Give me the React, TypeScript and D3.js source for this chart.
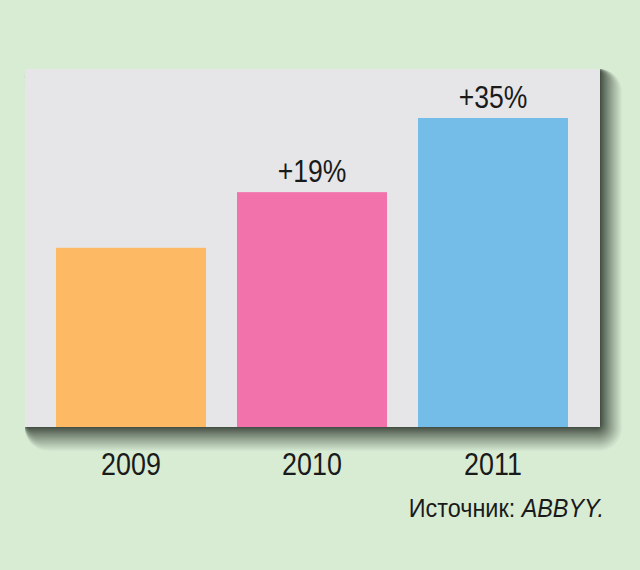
import React from "react";
import * as d3 from "d3";

const years = ["2009", "2010", "2011"];
const values = [58, 76, 100];
const growthLabels = ["", "+19%", "+35%"];
const barColors = ["#fdb963", "#f272ab", "#74bde9"];
const sourceLabel = "Источник: ";
const sourceName = "ABBYY.";

const W = 640;
const H = 570;
const BG = "#d8ecd4";
const panel = { x0: 25, x1: 600, y0: 69, y1: 427 };
const FONT = "'Liberation Sans', Arial, sans-serif";

function NarrowText(props: {
  x: number;
  y: number;
  size: number;
  sx: number;
  anchor: "start" | "middle" | "end";
  children: React.ReactNode;
}) {
  return (
    <g transform={`translate(${props.x},${props.y}) scale(${props.sx},1)`}>
      <text
        x={0}
        y={0}
        textAnchor={props.anchor}
        fontFamily={FONT}
        fontSize={props.size}
        fill="#1a1a1a"
      >
        {props.children}
      </text>
    </g>
  );
}

export default function App() {
  const x = d3
    .scaleBand<string>()
    .domain(years)
    .range([56, 568])
    .paddingInner(31 / 181)
    .paddingOuter(0);
  const y = d3.scaleLinear().domain([0, 100]).range([panel.y1, 118]);

  const steps = d3.range(24, -1, -1).map((k) => k / 24);
  const shade = d3.interpolateRgb("#3a463a", BG);

  return (
    <svg
      width={W}
      height={H}
      style={{ position: "absolute", left: 0, top: 0, display: "block" }}
    >
      <rect width={W} height={H} fill={BG} />
      {steps.map((t) => (
        <rect
          key={t}
          x={panel.x0}
          y={panel.y0}
          width={panel.x1 - panel.x0 + 23 * t}
          height={panel.y1 - panel.y0 + 25 * t}
          rx={4 + 20 * t}
          ry={4 + 20 * t}
          fill={shade(Math.pow(t, 0.85))}
        />
      ))}
      <rect
        x={panel.x0}
        y={panel.y0}
        width={panel.x1 - panel.x0}
        height={panel.y1 - panel.y0}
        fill="#e6e6e8"
      />
      {years.map((yr, i) => (
        <rect
          key={yr}
          x={x(yr)}
          y={y(values[i])}
          width={x.bandwidth()}
          height={panel.y1 - y(values[i])}
          fill={barColors[i]}
        />
      ))}
      {years.map((yr, i) =>
        growthLabels[i] ? (
          <NarrowText
            key={"g" + yr}
            x={(x(yr) as number) + x.bandwidth() / 2}
            y={y(values[i]) - 10}
            size={32}
            sx={0.83}
            anchor="middle"
          >
            {growthLabels[i]}
          </NarrowText>
        ) : null
      )}
      {years.map((yr) => (
        <NarrowText
          key={"y" + yr}
          x={(x(yr) as number) + x.bandwidth() / 2}
          y={475}
          size={32}
          sx={0.84}
          anchor="middle"
        >
          {yr}
        </NarrowText>
      ))}
      <NarrowText x={604} y={517} size={26} sx={0.9} anchor="end">
        {sourceLabel}
        <tspan fontStyle="italic">{sourceName}</tspan>
      </NarrowText>
    </svg>
  );
}
